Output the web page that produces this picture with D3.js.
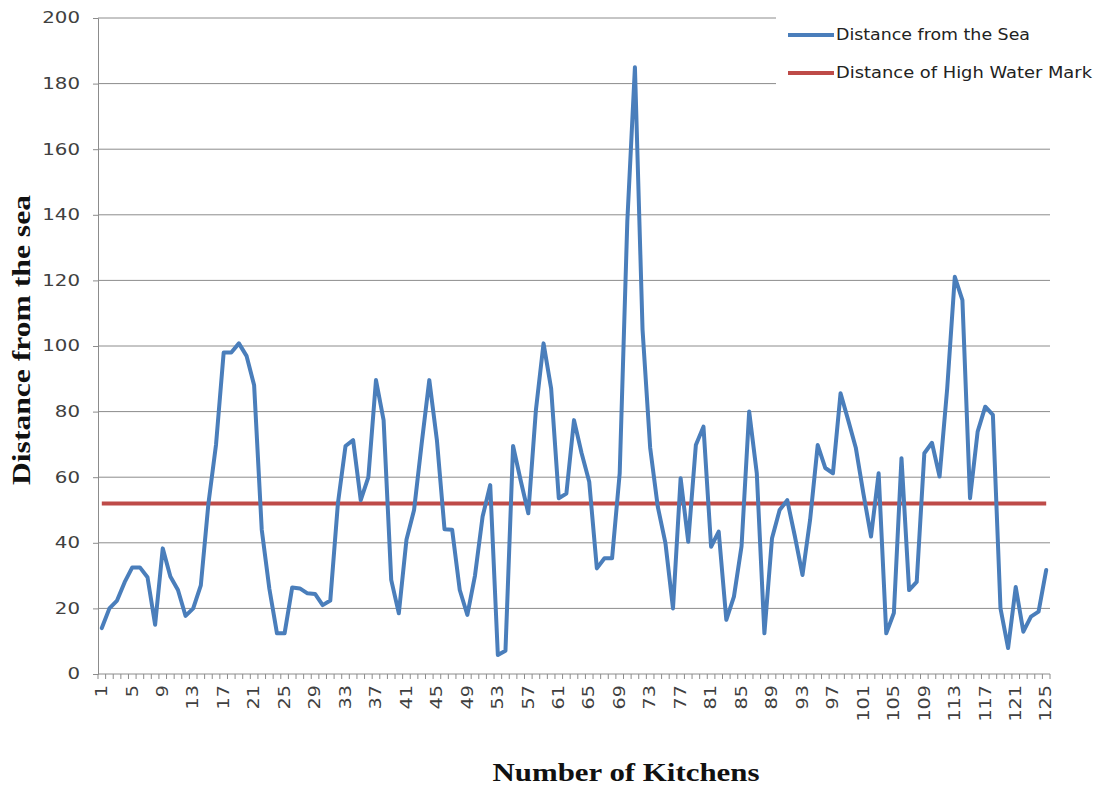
<!DOCTYPE html>
<html>
<head>
<meta charset="utf-8">
<script src="https://cdn.jsdelivr.net/npm/d3@7"></script>
<style>
  html, body { margin: 0; padding: 0; background: #fff; }
  svg { display: block; }
</style>
</head>
<body>
<svg id="chart" width="1098" height="787"></svg>
<script>
// ---- data ----
const kitchens = d3.range(1, 126);
const distanceFromSea = [
  14, 20, 22.4, 28, 32.5, 32.5, 29.5, 15, 38.3, 29.7,
  25.6, 17.7, 20, 27, 52, 70, 98, 98, 100.8, 97,
  88, 44, 26, 12.4, 12.4, 26.4, 26.1, 24.6, 24.4, 21,
  22.4, 52, 69.5, 71.3, 53, 60, 89.6, 77.4, 28.7, 18.5,
  40.9, 50, 70.3, 89.6, 71.3, 44.1, 44, 25.6, 18, 30,
  48, 57.6, 5.8, 7.1, 69.5, 59, 49, 80.5, 100.8, 87,
  53.6, 55, 77.4, 67.3, 58.6, 32.2, 35.3, 35.3, 61.2, 138,
  185, 105, 69, 51, 40, 20, 59.7, 40.3, 69.8, 75.4,
  38.8, 43.4, 16.5, 23.6, 39, 80, 61.2, 12.4, 41.4, 50,
  53, 42, 30.2, 47, 69.8, 62.8, 61.2, 85.6, 77.4, 69,
  55, 41.9, 61.2, 12.4, 18.6, 65.8, 25.6, 28.1, 67.3, 70.5,
  60.2, 87, 121.1, 114, 53.6, 73.9, 81.5, 79, 20, 7.9,
  26.5, 12.9, 17.5, 19, 31.7
];
const highWaterMark = 52;
const yTicks = [0, 20, 40, 60, 80, 100, 120, 140, 160, 180, 200];
const xTickLabels = kitchens.filter(k => (k - 1) % 4 === 0);
const seriesNames = ["Distance from the Sea", "Distance of High Water Mark"];
const yTitle = "Distance from the sea";
const xTitle = "Number of Kitchens";

// ---- layout ----
const L = 98, R = 1050, T = 18, B = 674;
const blue = "#4A7EBB", red = "#BE4B48", grid = "#8c8c8c";

const svg = d3.select("#chart");
const x = d3.scalePoint().domain(kitchens).range([L, R]).padding(0.5);
const y = d3.scaleLinear().domain([0, 200]).range([B, T]);
const step = x.step();

// gridlines
svg.append("g").selectAll("line").data(yTicks.filter(v => v > 0)).join("line")
  .attr("x1", L).attr("x2", R)
  .attr("y1", d => y(d)).attr("y2", d => y(d))
  .attr("stroke", grid).attr("stroke-width", 1);

// y axis
const yAxis = svg.append("g").attr("transform", `translate(${L},0)`)
  .call(d3.axisLeft(y).tickValues(yTicks).tickSize(5).tickPadding(13).tickFormat(d3.format("d")));
yAxis.select(".domain").attr("stroke", grid);
yAxis.selectAll(".tick line").attr("stroke", grid);
yAxis.selectAll(".tick text")
  .attr("font-family", "DejaVu Sans, Verdana, sans-serif")
  .attr("font-size", 15).attr("fill", "#404040")
  .attr("textLength", d => String(d).length * 12.6)
  .attr("lengthAdjust", "spacingAndGlyphs");

// x axis line + ticks
svg.append("line").attr("x1", L).attr("x2", R).attr("y1", B).attr("y2", B)
  .attr("stroke", grid).attr("stroke-width", 1);
svg.append("g").selectAll("line").data(kitchens.concat([126])).join("line")
  .attr("x1", d => x(Math.min(d, 125)) + (d === 126 ? step / 2 : -step / 2))
  .attr("x2", d => x(Math.min(d, 125)) + (d === 126 ? step / 2 : -step / 2))
  .attr("y1", B).attr("y2", B + 5)
  .attr("stroke", grid).attr("stroke-width", 1);

// x tick labels (rotated)
svg.append("g").selectAll("text").data(xTickLabels).join("text")
  .attr("transform", d => `translate(${x(d)},${B + 11}) rotate(-90)`)
  .attr("text-anchor", "end").attr("dy", "0.35em")
  .attr("font-family", "DejaVu Sans, Verdana, sans-serif")
  .attr("font-size", 15).attr("fill", "#404040")
  .attr("textLength", d => String(d).length * 12.2)
  .attr("lengthAdjust", "spacingAndGlyphs")
  .text(d => d);

// high water mark line
svg.append("path")
  .datum(kitchens)
  .attr("d", d3.line().x(d => x(d)).y(() => y(highWaterMark)))
  .attr("fill", "none").attr("stroke", red).attr("stroke-width", 4);

// distance series
svg.append("path")
  .datum(distanceFromSea)
  .attr("d", d3.line().x((d, i) => x(kitchens[i])).y(d => y(d)))
  .attr("fill", "none").attr("stroke", blue).attr("stroke-width", 4)
  .attr("stroke-linejoin", "round").attr("stroke-linecap", "round");

// legend
const lg = svg.append("g");
lg.append("rect").attr("x", 776).attr("y", 0).attr("width", 322).attr("height", 95).attr("fill", "#fff");
const legendItems = [
  { name: seriesNames[0], color: blue, yy: 35, len: 194 },
  { name: seriesNames[1], color: red, yy: 73, len: 256 }
];
legendItems.forEach(it => {
  lg.append("line").attr("x1", 788).attr("x2", 834).attr("y1", it.yy).attr("y2", it.yy)
    .attr("stroke", it.color).attr("stroke-width", 4);
  lg.append("text").attr("x", 836).attr("y", it.yy).attr("dy", "0.35em")
    .attr("font-family", "DejaVu Sans, Verdana, sans-serif")
    .attr("font-size", 15).attr("fill", "#222")
    .attr("textLength", it.len).attr("lengthAdjust", "spacingAndGlyphs")
    .text(it.name);
});

// axis titles
svg.append("text")
  .attr("transform", `translate(30,340) rotate(-90)`)
  .attr("text-anchor", "middle")
  .attr("font-family", "Liberation Serif, Times New Roman, serif")
  .attr("font-weight", "bold").attr("font-size", 25).attr("fill", "#111")
  .attr("textLength", 290).attr("lengthAdjust", "spacingAndGlyphs")
  .text(yTitle);

svg.append("text")
  .attr("x", 626).attr("y", 781)
  .attr("text-anchor", "middle")
  .attr("font-family", "Liberation Serif, Times New Roman, serif")
  .attr("font-weight", "bold").attr("font-size", 26).attr("fill", "#111")
  .attr("textLength", 267).attr("lengthAdjust", "spacingAndGlyphs")
  .text(xTitle);
</script>
</body>
</html>
